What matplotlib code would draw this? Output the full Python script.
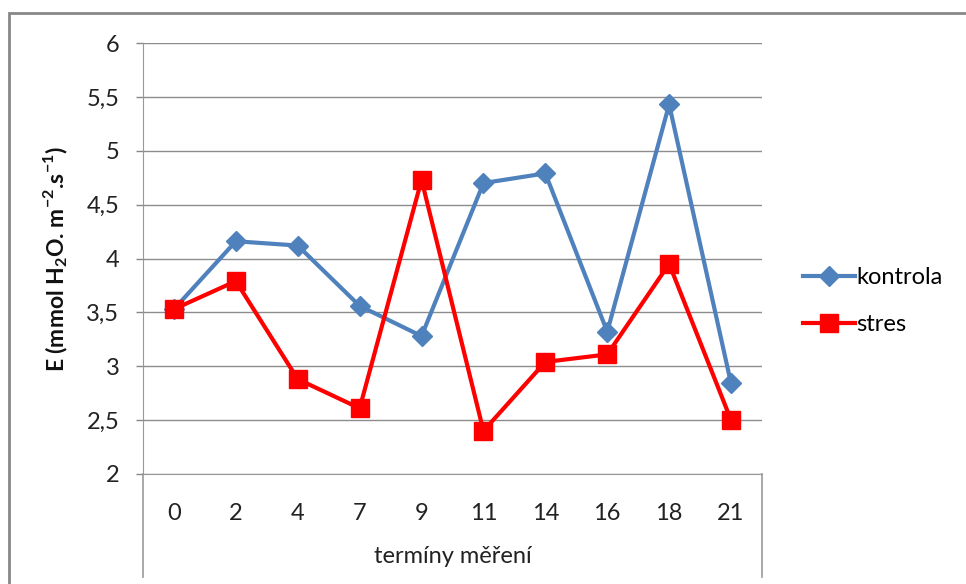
import matplotlib
matplotlib.use("Agg")
import matplotlib.pyplot as plt
from matplotlib.patches import Rectangle

plt.rcParams['font.family'] = ['Lato', 'DejaVu Sans']
plt.rcParams['mathtext.fontset'] = 'custom'
plt.rcParams['mathtext.rm'] = 'Lato'
plt.rcParams['mathtext.bf'] = 'Lato:bold'

# measurement days and transpiration values
terms = ['0', '2', '4', '7', '9', '11', '14', '16', '18', '21']
kontrola = [3.53, 4.16, 4.12, 3.56, 3.28, 4.70, 4.79, 3.32, 5.43, 2.84]
stres = [3.53, 3.79, 2.88, 2.61, 4.73, 2.40, 3.04, 3.11, 3.95, 2.50]

fig = plt.figure(figsize=(9.66, 5.84), dpi=100)
ax = fig.add_axes([143 / 966, 110 / 584, 619 / 966, 431 / 584])

x = list(range(len(terms)))
ax.plot(x, kontrola, color='#4F81BD', lw=3, marker='D', ms=10,
        label='kontrola', zorder=3)
ax.plot(x, stres, color='#FF0000', lw=3, marker='s', ms=13,
        label='stres', zorder=4)

ax.set_xlim(-0.5, len(terms) - 0.5)
ax.set_ylim(2, 6)
ax.set_yticks([2 + 0.5 * i for i in range(9)])
ax.set_yticklabels([f'{2 + 0.5 * i:g}'.replace('.', ',') for i in range(9)],
                   fontsize=17, color='#222222')
ax.set_xticks(x)
ax.set_xticklabels(terms, fontsize=17, color='#222222')
ax.tick_params(axis='x', length=0, pad=21)
ax.tick_params(axis='y', length=5, width=1, color='#888888', pad=12)
ax.yaxis.grid(True, color='#8c8c8c', lw=1)
ax.set_axisbelow(True)

for side in ('top', 'right'):
    ax.spines[side].set_visible(False)
ax.spines['left'].set_color('#999999')
ax.spines['bottom'].set_color('#999999')

# category axis box below the plot area
depth = -103 / 431
for xa in (0, 1):
    ax.plot([xa, xa], [0, depth], transform=ax.transAxes, color='#999999',
            lw=1.2, clip_on=False)

ax.set_xlabel('termíny měření', fontsize=17, color='#222222', labelpad=16)
ax.set_ylabel(r'E (mmol H$_\mathbf{2}$O. m$^{\mathbf{-2}}$.s$^{\mathbf{-1}}$)',
              fontsize=16.5, fontweight='bold', color='#111111', labelpad=12)

ax.legend(loc='center left', bbox_to_anchor=(782 / 966, 1 - 301 / 584),
          bbox_transform=fig.transFigure, frameon=False, fontsize=17,
          handlelength=2.2, handletextpad=0.05, labelspacing=1.1)

# chart frame
fig.patches.append(Rectangle((9 / 966, -0.1), 1.2, 1 - 13 / 584 + 0.1,
                             transform=fig.transFigure, fill=False,
                             edgecolor='#888888', lw=2))

fig.savefig('out.png', dpi=100)
